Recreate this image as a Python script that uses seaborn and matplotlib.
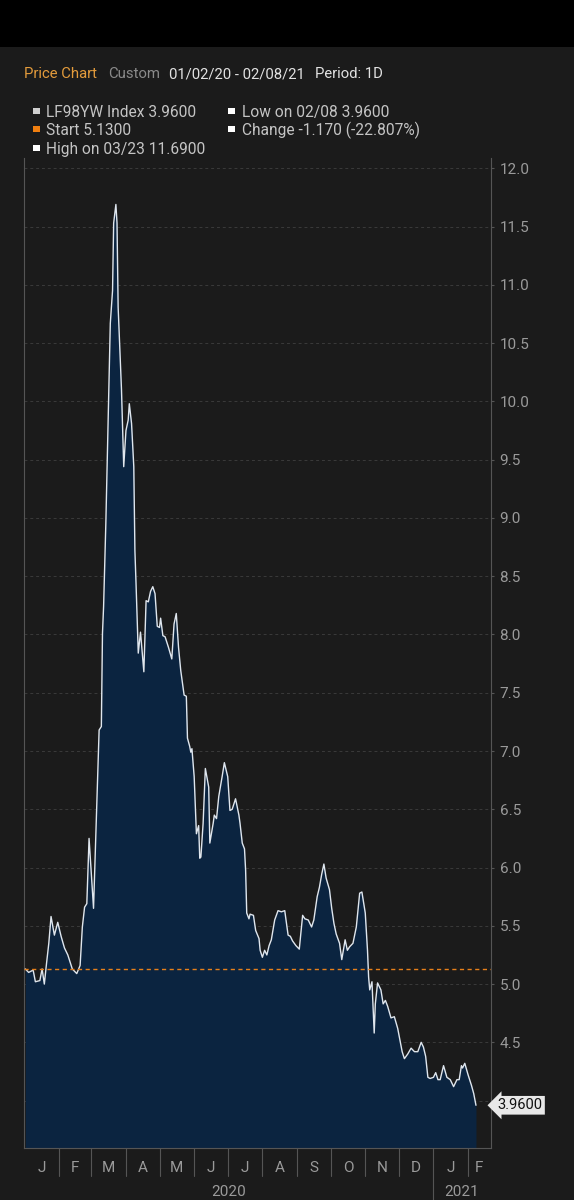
import matplotlib
matplotlib.use("Agg")
import matplotlib.pyplot as plt
import matplotlib.transforms as mtransforms
from matplotlib.patches import Rectangle
import numpy as np
import pandas as pd
import seaborn as sns

# values (LF98YW Index, daily)
dates = [
    "2020-01-02", "2020-01-05", "2020-01-09", "2020-01-11", "2020-01-15", "2020-01-17",
    "2020-01-19", "2020-01-21", "2020-01-23", "2020-01-25", "2020-01-28", "2020-01-31",
    "2020-02-03", "2020-02-06", "2020-02-09", "2020-02-13", "2020-02-17", "2020-02-20",
    "2020-02-22", "2020-02-24", "2020-02-26", "2020-02-28", "2020-03-03", "2020-03-06",
    "2020-03-08", "2020-03-10", "2020-03-11", "2020-03-12", "2020-03-14", "2020-03-16",
    "2020-03-18", "2020-03-20", "2020-03-21", "2020-03-23", "2020-03-24", "2020-03-25",
    "2020-03-28", "2020-03-30", "2020-04-01", "2020-04-03", "2020-04-04", "2020-04-06",
    "2020-04-08", "2020-04-09", "2020-04-10", "2020-04-12", "2020-04-14", "2020-04-17",
    "2020-04-19", "2020-04-21", "2020-04-23", "2020-04-25", "2020-04-27", "2020-04-29",
    "2020-05-01", "2020-05-02", "2020-05-04", "2020-05-06", "2020-05-09", "2020-05-12",
    "2020-05-14", "2020-05-16", "2020-05-18", "2020-05-20", "2020-05-23", "2020-05-25",
    "2020-05-26", "2020-05-28", "2020-05-29", "2020-05-30", "2020-06-01", "2020-06-03",
    "2020-06-05", "2020-06-06", "2020-06-07", "2020-06-09", "2020-06-11", "2020-06-14",
    "2020-06-15", "2020-06-18", "2020-06-19", "2020-06-21", "2020-06-23", "2020-06-26",
    "2020-06-28", "2020-07-01", "2020-07-03", "2020-07-05", "2020-07-08", "2020-07-11",
    "2020-07-12", "2020-07-14", "2020-07-16", "2020-07-17", "2020-07-18", "2020-07-20",
    "2020-07-21", "2020-07-24", "2020-07-26", "2020-07-29", "2020-07-30", "2020-08-01",
    "2020-08-03", "2020-08-05", "2020-08-07", "2020-08-09", "2020-08-12", "2020-08-15",
    "2020-08-18", "2020-08-21", "2020-08-24", "2020-08-26", "2020-08-28", "2020-08-31",
    "2020-09-03", "2020-09-06", "2020-09-08", "2020-09-11", "2020-09-14", "2020-09-16",
    "2020-09-19", "2020-09-21", "2020-09-23", "2020-09-25", "2020-09-27", "2020-09-30",
    "2020-10-02", "2020-10-04", "2020-10-06", "2020-10-09", "2020-10-11", "2020-10-14",
    "2020-10-16", "2020-10-18", "2020-10-21", "2020-10-24", "2020-10-27", "2020-10-29",
    "2020-11-01", "2020-11-03", "2020-11-04", "2020-11-05", "2020-11-07", "2020-11-09",
    "2020-11-10", "2020-11-12", "2020-11-15", "2020-11-17", "2020-11-19", "2020-11-21",
    "2020-11-24", "2020-11-27", "2020-11-30", "2020-12-02", "2020-12-04", "2020-12-06",
    "2020-12-09", "2020-12-12", "2020-12-15", "2020-12-18", "2020-12-21", "2020-12-23",
    "2020-12-25", "2020-12-27", "2020-12-29", "2021-01-01", "2021-01-03", "2021-01-05",
    "2021-01-07", "2021-01-10", "2021-01-13", "2021-01-16", "2021-01-19", "2021-01-22",
    "2021-01-24", "2021-01-26", "2021-01-27", "2021-01-29", "2021-02-01", "2021-02-04",
    "2021-02-06", "2021-02-08",
]
values = [
    5.13, 5.10, 5.12, 5.02, 5.03, 5.13,
    5.00, 5.18, 5.35, 5.58, 5.42, 5.53,
    5.41, 5.31, 5.25, 5.13, 5.09, 5.16,
    5.49, 5.66, 5.69, 6.25, 5.65, 6.58,
    7.18, 7.21, 8.01, 8.24, 8.95, 9.81,
    10.67, 10.95, 11.53, 11.69, 11.53, 10.81,
    10.10, 9.44, 9.75, 9.84, 9.98, 9.81,
    9.44, 8.72, 8.44, 7.84, 8.02, 7.68,
    8.29, 8.28, 8.37, 8.41, 8.35, 8.07,
    8.06, 8.14, 7.99, 7.98, 7.89, 7.79,
    8.09, 8.18, 7.89, 7.69, 7.48, 7.47,
    7.11, 7.04, 6.99, 7.02, 6.78, 6.29,
    6.36, 6.08, 6.09, 6.38, 6.85, 6.69,
    6.21, 6.38, 6.45, 6.42, 6.61, 6.78,
    6.90, 6.78, 6.49, 6.50, 6.59, 6.45,
    6.38, 6.21, 6.16, 5.98, 5.61, 5.56,
    5.60, 5.59, 5.46, 5.39, 5.29, 5.23,
    5.29, 5.25, 5.33, 5.38, 5.55, 5.63,
    5.62, 5.63, 5.42, 5.41, 5.37, 5.33,
    5.30, 5.59, 5.56, 5.55, 5.49, 5.55,
    5.75, 5.83, 5.94, 6.03, 5.91, 5.81,
    5.65, 5.52, 5.43, 5.35, 5.21, 5.38,
    5.29, 5.32, 5.35, 5.49, 5.78, 5.79,
    5.61, 5.29, 5.06, 4.95, 5.02, 4.58,
    4.83, 5.01, 4.95, 4.83, 4.86, 4.81,
    4.71, 4.72, 4.62, 4.52, 4.42, 4.36,
    4.40, 4.45, 4.42, 4.42, 4.50, 4.46,
    4.38, 4.20, 4.19, 4.20, 4.24, 4.18,
    4.18, 4.30, 4.20, 4.18, 4.12, 4.18,
    4.18, 4.30, 4.28, 4.32, 4.22, 4.13,
    4.06, 3.96,
]

start_value = 5.13
last_label = "3.9600"
month_letters = ["J", "F", "M", "A", "M", "J", "J", "A", "S", "O", "N", "D", "J", "F"]
year_labels = ["2020", "2021"]
y_ticks = np.arange(4.0, 12.01, 0.5)

header = [("Price Chart", "#e39b3c"), ("Custom", "#8a8a8a"),
          ("01/02/20 - 02/08/21", "#e2e2e2"), ("Period: 1D", "#e2e2e2")]
legend_items = [("LF98YW Index 3.9600", "#cfcfcf"), ("Low on 02/08 3.9600", "#ffffff"),
                ("Start 5.1300", "#f07f10"), ("Change -1.170 (-22.807%)", "#ffffff"),
                ("High on 03/23 11.6900", "#ffffff")]

BG = "#1b1b1b"
NAVY = "#0b2440"
GRID = "#3a3a3a"
AXC = "#555555"
TXT = "#9a9a9a"

df = pd.DataFrame({"date": pd.to_datetime(dates), "value": values})

sns.set_style("dark")
plt.rcParams["font.family"] = ["Roboto", "DejaVu Sans"]

W, H = 574, 1200
fig = plt.figure(figsize=(W / 100, H / 100), dpi=100, facecolor=BG)
ax = fig.add_axes([24.2 / W, 1 - 1147.7 / H, (490.5 - 24.2) / W, (1147.7 - 158.3) / H])
ax.set_facecolor(BG)

# top black status band
fig.patches.append(Rectangle((0, 1 - 47 / H), 1, 47 / H, transform=fig.transFigure,
                             facecolor="black", edgecolor="none", zorder=0))

ymin, ymax = 3.596, 12.086
x0, x1 = pd.Timestamp("2020-01-01"), pd.Timestamp("2021-02-21")

ax.fill_between(df["date"], df["value"], ymin, color=NAVY, linewidth=0, zorder=1)
sns.lineplot(data=df, x="date", y="value", ax=ax, color="#dfe6ee", linewidth=1.0, zorder=3)
ax.axhline(start_value, color="#e8801a", linewidth=1.0, linestyle=(0, (3, 2.5)), zorder=4)

ax.set_xlim(x0, x1)
ax.set_ylim(ymin, ymax)
ax.set_xlabel("")
ax.set_ylabel("")

# y axis on the right
ax.yaxis.tick_right()
ax.set_yticks(y_ticks)
ax.set_yticklabels(["" if abs(t - 4.0) < 1e-9 else f"{t:.1f}" for t in y_ticks])
ax.tick_params(axis="y", colors=AXC, labelcolor=TXT, labelsize=11, length=2.5,
               width=0.8, pad=4, right=True, left=False, direction="out")
ax.grid(axis="y", color=GRID, linestyle=(0, (3, 3)), linewidth=0.7)
ax.grid(axis="x", visible=False)

for side in ["left", "right", "bottom"]:
    ax.spines[side].set_visible(True)
    ax.spines[side].set_color(AXC)
    ax.spines[side].set_linewidth(0.8)
ax.spines["top"].set_visible(False)

# month separators and labels
months = pd.date_range("2020-01-01", "2021-02-01", freq="MS")
ax.set_xticks([])
ax_h = 1147.7 - 158.3
trans = mtransforms.blended_transform_factory(ax.transData, ax.transAxes)
edges = list(months) + [x1]
for i, m in enumerate(months):
    if i > 0:
        low = -52.3 / ax_h if (m.month == 1) else -28 / ax_h
        ax.plot([m, m], [0, low], transform=trans, color=AXC, linewidth=0.8, clip_on=False)
    mid = edges[i] + (edges[i + 1] - edges[i]) / 2
    ax.text(mid, -(1171.7 - 1147.7) / ax_h, month_letters[i], transform=trans,
            ha="center", va="baseline", color=TXT, fontsize=11)

year_mid = [pd.Timestamp("2020-01-01") + (pd.Timestamp("2021-01-01") - pd.Timestamp("2020-01-01")) / 2,
            pd.Timestamp("2021-01-01") + (x1 - pd.Timestamp("2021-01-01")) / 2]
for lbl, xm in zip(year_labels, year_mid):
    ax.text(xm, -(1195.7 - 1147.7) / ax_h, lbl, transform=trans, ha="center",
            va="baseline", color=TXT, fontsize=11)

# last value tag
tag_trans = mtransforms.blended_transform_factory(ax.transAxes, ax.transData)
ax.text(1.0 + 7 / (490.5 - 24.2), values[-1], last_label, transform=tag_trans,
        ha="left", va="center", color="#111111", fontsize=10.5, zorder=6, clip_on=False,
        bbox=dict(boxstyle="larrow,pad=0.16", facecolor="#e8e8e8", edgecolor="none"))

# header
hx = [24, 108, 169, 315]
for (txt, col), x in zip(header, hx):
    fig.text(x / W, 1 - 78.3 / H, txt, color=col, fontsize=10.7, ha="left", va="baseline")

# legend block
rows = [117.3, 135.0, 154.0]
cols = [(33, 46.5), (228, 242)]
pos = [(0, 0), (1, 0), (0, 1), (1, 1), (0, 2)]
for (txt, col), (c, r) in zip(legend_items, pos):
    sx, tx = cols[c]
    by = rows[r]
    fig.patches.append(Rectangle((sx / W, 1 - (by - 3) / H), 6.5 / W, 6.5 / H,
                                 transform=fig.transFigure, facecolor=col, edgecolor="none"))
    fig.text(tx / W, 1 - by / H, txt, color="#c4c4c4", fontsize=11.2, ha="left", va="baseline")

fig.savefig("out.png", dpi=100, facecolor=BG)
